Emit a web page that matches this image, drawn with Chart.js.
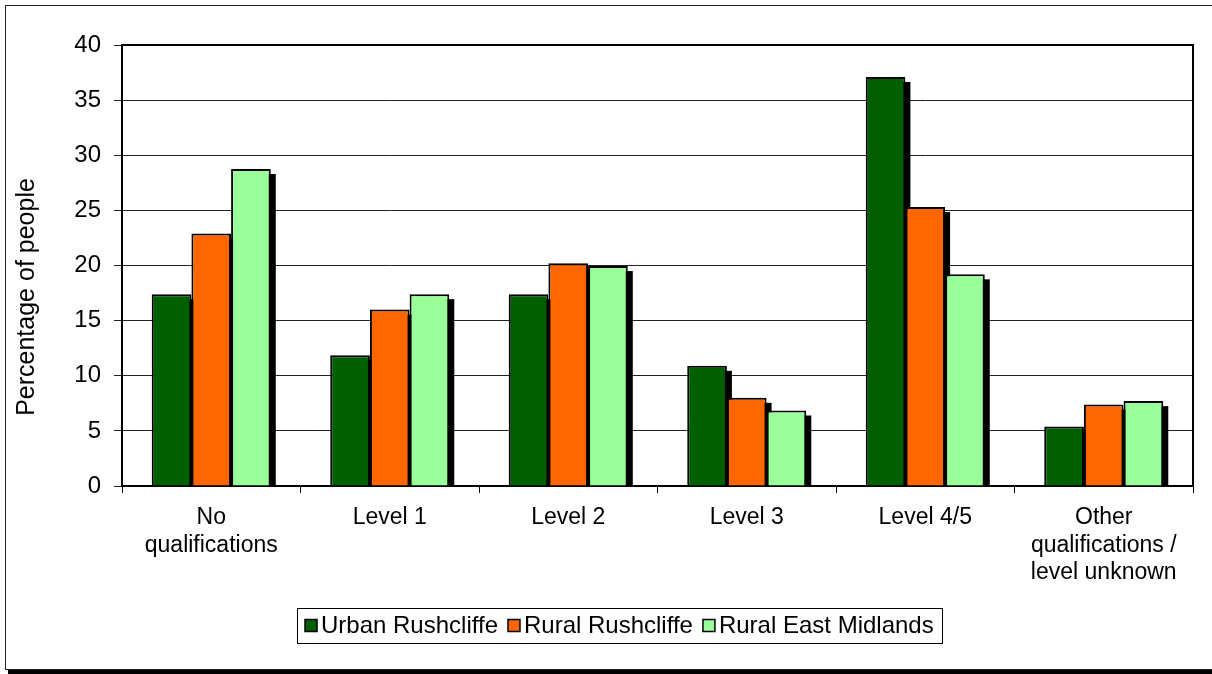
<!DOCTYPE html>
<html>
<head>
<meta charset="utf-8">
<script src="https://cdn.jsdelivr.net/npm/chart.js@4/dist/chart.umd.min.js"></script>
<style>
  html, body { margin: 0; padding: 0; background: #fff; }
  #wrap { position: relative; width: 1212px; height: 674px; }
</style>
</head>
<body>
<div id="wrap"><canvas id="qualChart" width="1212" height="674"></canvas></div>
<script>
// qualification levels, % of people aged 16-74
const categories = [['No', 'qualifications'], 'Level 1', 'Level 2', 'Level 3', 'Level 4/5', ['Other', 'qualifications /', 'level unknown']];
const urbanRushcliffe = [17.4, 11.85, 17.4, 10.9, 37.1, 5.4];
const ruralRushcliffe = [22.9, 16.0, 20.2, 8.0, 25.3, 7.4];
const ruralEastMidlands = [28.75, 17.4, 19.95, 6.85, 19.2, 7.7];
const yMin = 0, yMax = 40, yStep = 5;
const yTitle = 'Percentage of people';

const FONT = '"Liberation Sans", Arial, sans-serif';

// outer frame of the chart object
const frame = {
  id: 'frame',
  beforeDraw(chart) {
    const ctx = chart.ctx;
    ctx.save();
    ctx.fillStyle = '#fff';
    ctx.fillRect(0, 0, chart.width, chart.height);
    ctx.strokeStyle = '#222';
    ctx.lineWidth = 1;
    ctx.strokeRect(5.5, 5.5, chart.width + 20, 664);
    ctx.fillStyle = '#000';
    ctx.fillRect(8, 670, chart.width, 4);
    ctx.restore();
  }
};

// drop shadow behind every bar
const barShadow = {
  id: 'barShadow',
  beforeDatasetsDraw(chart) {
    const ctx = chart.ctx;
    ctx.save();
    ctx.fillStyle = '#000';
    chart.data.datasets.forEach((ds, i) => {
      chart.getDatasetMeta(i).data.forEach(bar => {
        const left = bar.x - bar.width / 2 + 5;
        ctx.fillRect(left, bar.y + 5, bar.width, bar.base - bar.y - 5);
      });
    });
    ctx.restore();
  }
};

// plot border, axis title and boxed legend
const extras = {
  id: 'extras',
  afterDraw(chart) {
    const ctx = chart.ctx;
    const a = chart.chartArea;
    ctx.save();
    ctx.strokeStyle = '#000';
    ctx.lineWidth = 2;
    ctx.beginPath();
    ctx.moveTo(a.left, a.top);
    ctx.lineTo(a.right, a.top);
    ctx.lineTo(a.right, a.bottom);
    ctx.stroke();

    ctx.fillStyle = '#000';
    ctx.font = '25px ' + FONT;
    ctx.textAlign = 'center';
    ctx.textBaseline = 'middle';
    ctx.translate(27, 297);
    ctx.rotate(-Math.PI / 2);
    ctx.fillText(yTitle, 0, 0);
    ctx.restore();

    ctx.save();
    ctx.font = '24px ' + FONT;
    const items = chart.data.datasets.map(ds => ({
      text: ds.label, color: ds.backgroundColor, w: ctx.measureText(ds.label).width
    }));
    const box = 12, gap = 4, sep = 10, padX = 8;
    const total = items.reduce((s, it) => s + box + gap + it.w, 0) + sep * (items.length - 1) + padX * 2;
    let x = Math.round(619 - total / 2);
    const top = 608, h = 35, cy = top + h / 2;
    ctx.strokeStyle = '#000';
    ctx.lineWidth = 1;
    ctx.strokeRect(x + 0.5, top + 0.5, Math.round(total), h);
    x += padX;
    ctx.textAlign = 'left';
    ctx.textBaseline = 'middle';
    items.forEach(it => {
      ctx.fillStyle = it.color;
      ctx.fillRect(x, cy - box / 2, box, box);
      ctx.lineWidth = 1.5;
      ctx.strokeRect(x, cy - box / 2, box, box);
      ctx.fillStyle = '#000';
      ctx.fillText(it.text, x + box + gap, cy + 1);
      x += box + gap + it.w + sep;
    });
    ctx.restore();
  }
};

new Chart(document.getElementById('qualChart'), {
  type: 'bar',
  data: {
    labels: categories,
    datasets: [
      { label: 'Urban Rushcliffe', data: urbanRushcliffe, backgroundColor: '#006000' },
      { label: 'Rural Rushcliffe', data: ruralRushcliffe, backgroundColor: '#ff6600' },
      { label: 'Rural East Midlands', data: ruralEastMidlands, backgroundColor: '#99ff99' }
    ]
  },
  options: {
    responsive: false,
    animation: false,
    devicePixelRatio: 1,
    layout: { padding: { left: 0, top: 45, right: 19, bottom: 68 } },
    datasets: {
      bar: { categoryPercentage: 0.667, barPercentage: 1, borderColor: '#000', borderWidth: 2 }
    },
    plugins: {
      legend: { display: false },
      tooltip: { enabled: false }
    },
    scales: {
      x: {
        afterFit: s => { s.height = 120; },
        grid: { offset: true, drawOnChartArea: false, tickLength: 7, color: '#000' },
        border: { color: '#000', width: 2 },
        ticks: {
          color: '#000', padding: 11, maxRotation: 0, autoSkip: false,
          font: { family: FONT, size: 23, lineHeight: 1.2 }
        }
      },
      y: {
        min: yMin, max: yMax,
        afterFit: s => { s.width = 122; },
        grid: { color: '#222', tickLength: 8 },
        border: { color: '#000', width: 2 },
        ticks: {
          stepSize: yStep, color: '#000', padding: 13,
          font: { family: FONT, size: 24 }
        }
      }
    }
  },
  plugins: [frame, barShadow, extras]
});
</script>
</body>
</html>
